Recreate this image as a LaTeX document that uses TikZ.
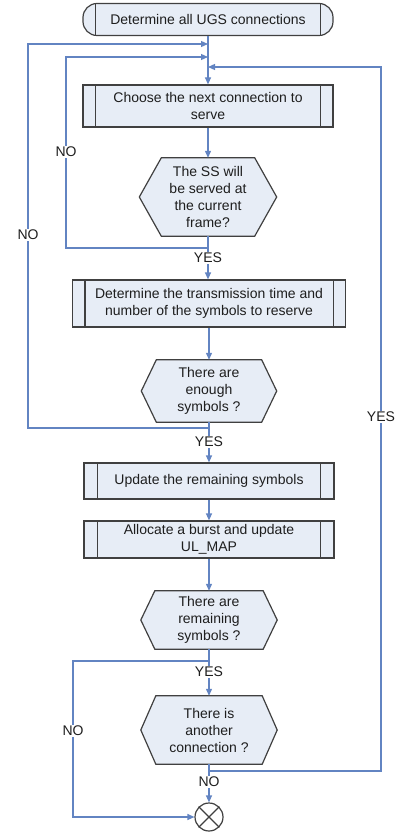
\documentclass[tikz,border=0pt]{standalone}
\usepackage{fontspec}
\setmainfont{Liberation Sans}
\usetikzlibrary{arrows.meta,calc,backgrounds}
\definecolor{lineblue}{RGB}{98,132,194}
\definecolor{boxfill}{RGB}{231,237,246}
\definecolor{boxline}{RGB}{64,64,64}
\definecolor{txt}{RGB}{30,30,30}
\newcommand\myhex[2]{\draw[hexdraw] (#1.west) -- ([xshift=#2]#1.north west) -- ([xshift=-#2]#1.north east) -- (#1.east) -- ([xshift=-#2]#1.south east) -- ([xshift=#2]#1.south west) -- cycle;}
\newcommand\mybars[2]{\draw[boxline, line width=1.2pt] ([xshift=#2]#1.north west) -- ([xshift=#2]#1.south west) ([xshift=-#2]#1.north east) -- ([xshift=-#2]#1.south east);}
\begin{document}
\begin{tikzpicture}[x=1pt,y=-1pt,
  every node/.style={font=\fontsize{14}{17}\selectfont, text=txt},
  proc/.style={draw=boxline, fill=boxfill, line width=1.2pt, inner sep=0pt, align=center},
  hextext/.style={inner sep=0pt, align=center},
  hexdraw/.style={draw=boxline, fill=boxfill, line width=1.2pt, line join=miter},
  conn/.style={draw=lineblue, line width=1.2pt},
  arr/.style={conn, -{Triangle[length=7pt,width=6pt]}},
  lbl/.style={fill=white, inner sep=1pt}
]
\useasboundingbox (0,0) rectangle (402,834);

% nodes
\node[proc, rounded corners=14pt, minimum width=250pt, minimum height=32pt] (start) at (208,19.5) {Determine all UGS connections};
\mybars{start}{13pt}
\node[proc, minimum width=250pt, minimum height=42pt] (choose) at (208,106) {Choose the next connection to\\serve};
\mybars{choose}{13pt}
\node[hextext, minimum width=137pt, minimum height=78pt] (h1) at (208,197) {The SS will\\be served at\\the current\\frame?};
\node[proc, minimum width=273pt, minimum height=47pt] (det) at (209,303.5) {Determine the transmission time and\\number of the symbols to reserve};
\mybars{det}{13pt}
\node[hextext, minimum width=135pt, minimum height=62pt] (h2) at (209,391) {There are\\enough\\symbols ?};
\node[proc, minimum width=250pt, minimum height=36pt] (upd) at (209,481) {Update the remaining symbols};
\mybars{upd}{14pt}
\node[proc, minimum width=250pt, minimum height=37pt] (alloc) at (209,539.5) {Allocate a burst and update\\UL\_MAP};
\mybars{alloc}{14pt}
\node[hextext, minimum width=136pt, minimum height=58pt] (h3) at (209,620) {There are\\remaining\\symbols ?};
\node[hextext, minimum width=136pt, minimum height=68pt] (h4) at (209,730) {There is\\another\\connection ?};
\node[draw=boxline, fill=white, circle, minimum size=28pt, inner sep=0pt, line width=1.2pt] (e) at (209,817) {};
\draw[boxline, line width=1.2pt] (e.north west) -- (e.south east) (e.north east) -- (e.south west);

\begin{scope}[on background layer]
\myhex{h1}{22pt}
\myhex{h2}{15pt}
\myhex{h3}{14pt}
\myhex{h4}{15pt}
\end{scope}

% junction coordinates
\coordinate (j1) at (208,44);
\coordinate (j2) at (208,57);
\coordinate (j3) at (208,67);
\coordinate (n1) at (66,248);
\coordinate (o1) at (28,428);
\coordinate (b1) at (73,661);
\coordinate (r1) at (381,771);

% spine
\draw[arr] (start.south) -- (choose.north);
\draw[arr] (choose.south) -- (h1.north);
\draw[arr] (h1.south) -- (h1.south |- det.north);
\draw[arr] (det.south) -- (h2.north);
\draw[arr] (h2.south) -- (upd.north);
\draw[arr] (upd.south) -- (alloc.north);
\draw[arr] (alloc.south) -- (h3.north);
\draw[arr] (h3.south) -- (h4.north);
\draw[arr] (h4.south) -- (e.north);

% loops
\draw[arr] (h1.south) |- (n1) |- (j2);
\draw[arr] (h2.south) |- (o1) |- (j1);
\draw[arr] (h3.south) |- (b1) |- (e.west);
\draw[arr] (h4.south) |- (r1) |- (j3);

% labels
\node[lbl] (l1) at (66,152) {NO};
\node[lbl] (l2) at (28,235) {NO};
\node[lbl] (l3) at (208,258) {YES};
\node[lbl] (l4) at (209,442) {YES};
\node[lbl] (l5) at (381,417) {YES};
\node[lbl] (l6) at (209,672) {YES};
\node[lbl] (l7) at (73,731) {NO};
\node[lbl] (l8) at (209,782) {NO};
\end{tikzpicture}
\end{document}
